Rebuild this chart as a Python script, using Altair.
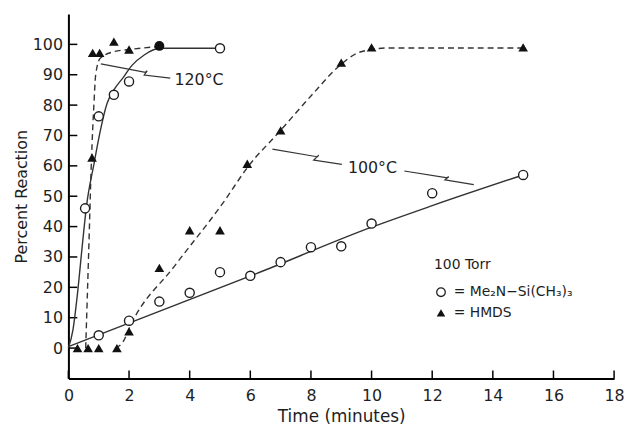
import altair as alt
import pandas as pd

# ---------------- data ----------------
# 120 C, Me2N-Si(CH3)3 (open circles)
c120_t = [0.55, 1.0, 1.5, 2.0, 5.0]
c120_v = [46.0, 76.3, 83.4, 87.8, 98.7]
# 120 C, HMDS (filled triangles)
h120_t = [0.78, 0.8, 1.03, 1.5, 2.0]
h120_v = [62.7, 97.2, 97.2, 100.9, 98.3]
# point at 3 min where both 120 C series coincide (filled circle)
both_t = [3.0]
both_v = [99.5]
# 100 C, Me2N-Si(CH3)3
c100_t = [1, 2, 3, 4, 5, 6, 7, 8, 9, 10, 12, 15]
c100_v = [4.2, 9.0, 15.3, 18.2, 25.0, 23.8, 28.3, 33.2, 33.5, 41.0, 51.0, 57.0]
# 100 C, HMDS
h100_t = [0.3, 0.65, 1.0, 1.6, 2.0, 3.0, 4.0, 5.0, 5.9, 7.0, 9.0, 10.0, 15.0]
h100_v = [0.0, 0.0, 0.0, 0.0, 5.5, 26.4, 38.8, 38.8, 60.7, 71.7, 94.0, 99.0, 99.0]

# hand-drawn fitted curves
fc120_t = [0, 0.15, 0.3, 0.45, 0.6, 0.85, 1.0, 1.28, 1.5, 1.83, 2.09, 2.5, 3.0, 5.0]
fc120_v = [0, 6, 18, 33, 47, 61, 69, 80.7, 85, 89.4, 93, 96.5, 98.7, 98.7]
fh120_t = [0.57, 0.67, 0.76, 0.84, 0.9, 1.05, 1.5, 2.0, 3.0]
fh120_v = [0, 32, 62, 80, 90, 95.4, 97.6, 98.3, 99.3]
fc100_t = [0, 6.2, 10, 12, 15]
fc100_v = [0.5, 24.5, 39.8, 46.9, 57.0]
fh100_t = [1.55, 1.8, 2.05, 3.5, 5.15, 5.9, 7.0, 8.0, 9.0, 9.5, 10.0, 10.5, 15.0]
fh100_v = [0, 2, 7.5, 27, 48.5, 59.4, 71.7, 83, 93.5, 97, 98.3, 98.8, 98.8]

# leader lines with a break symbol
lead120_t = [1.07, 2.54, 2.60, 2.50, 3.36]
lead120_v = [93.6, 90.8, 91.3, 89.9, 88.9]
lead100a_t = [6.73, 8.20, 8.26, 8.09, 9.02]
lead100a_v = [65.5, 63.0, 63.5, 61.9, 60.5]
lead100b_t = [11.08, 12.45, 12.55, 12.42, 13.37]
lead100b_v = [58.3, 56.1, 56.4, 55.4, 53.8]

# text
temp_labels = ["120°C", "100°C"]
temp_t = [4.31, 10.03]
temp_v = [88.1, 59.3]
legend_lines = ["100 Torr", "= Me₂N−Si(CH₃)₃", "= HMDS"]
legend_t = [12.06, 12.71, 12.71]
legend_v = [27.3, 18.4, 11.6]
legend_sym_t = [12.29, 12.29]
legend_sym_v = [18.4, 11.6]

x_ticks = list(range(0, 19, 2))
y_ticks = list(range(0, 101, 10))

FONT = "DejaVu Sans"
INK = "#1e1e1e"
W, H = 551, 368

xscale = alt.Scale(domain=[0, 18], nice=False, zero=False)
yscale = alt.Scale(domain=[-10, 110], nice=False, zero=False)
xaxis = alt.Axis(values=x_ticks, title="Time (minutes)", ticks=False, grid=False,
                 domainColor="black", domainWidth=2, labelFont=FONT, labelFontSize=16,
                 labelColor=INK, labelPadding=9, titleFont=FONT, titleFontSize=17,
                 titleFontWeight="normal", titleColor=INK, titlePadding=5, format="d",
                 labelFlush=False)
yaxis = alt.Axis(values=y_ticks, title="Percent Reaction", ticks=False, grid=False,
                 domainColor="black", domainWidth=2, labelFont=FONT, labelFontSize=16,
                 labelColor=INK, labelPadding=6, titleFont=FONT, titleFontSize=16,
                 titleFontWeight="normal", titleColor=INK, titlePadding=3, format="d",
                 labelFlush=False)


def X(f="t"):
    return alt.X(f, type="quantitative", scale=xscale, axis=xaxis)


def Y(f="v"):
    return alt.Y(f, type="quantitative", scale=yscale, axis=yaxis)


def df(t, v):
    return pd.DataFrame({"t": t, "v": v, "i": list(range(len(t)))})


layers = []

# inward tick marks
layers.append(alt.Chart(pd.DataFrame({"t": x_ticks})).mark_rule(color="black", strokeWidth=1.5)
              .encode(x=X(), y=alt.value(H), y2=alt.value(H - 8)))
layers.append(alt.Chart(pd.DataFrame({"v": y_ticks})).mark_rule(color="black", strokeWidth=1.5)
              .encode(y=Y(), x=alt.value(0), x2=alt.value(9)))

# fitted curves
for (t, v, dash) in [(fc120_t, fc120_v, None), (fh120_t, fh120_v, [6, 4]),
                     (fc100_t, fc100_v, None), (fh100_t, fh100_v, [6, 4])]:
    kw = dict(color="#333", strokeWidth=1.4, interpolate="monotone")
    if dash:
        kw["strokeDash"] = dash
    layers.append(alt.Chart(df(t, v)).mark_line(**kw).encode(x=X(), y=Y()))

# leader lines
for (t, v) in [(lead120_t, lead120_v), (lead100a_t, lead100a_v), (lead100b_t, lead100b_v)]:
    layers.append(alt.Chart(df(t, v)).mark_line(color="#333", strokeWidth=1.2)
                  .encode(x=X(), y=Y(), order=alt.Order("i:Q")))

# data points
for (t, v) in [(c120_t, c120_v), (c100_t, c100_v)]:
    layers.append(alt.Chart(df(t, v)).mark_point(shape="circle", size=85, filled=True, fill="white",
                                                 stroke=INK, strokeWidth=1.4, opacity=1)
                  .encode(x=X(), y=Y()))
for (t, v) in [(h120_t, h120_v), (h100_t, h100_v)]:
    layers.append(alt.Chart(df(t, v)).mark_point(shape="triangle-up", size=95, filled=True,
                                                 color="#111", opacity=1)
                  .encode(x=X(), y=Y()))
layers.append(alt.Chart(df(both_t, both_v)).mark_point(shape="circle", size=100, filled=True,
                                                        color="#111", opacity=1)
              .encode(x=X(), y=Y()))

# temperature labels
layers.append(alt.Chart(pd.DataFrame({"t": temp_t, "v": temp_v, "s": temp_labels}))
              .mark_text(font=FONT, fontSize=16, color=INK, align="center", baseline="middle")
              .encode(x=X(), y=Y(), text="s:N"))

# legend
layers.append(alt.Chart(pd.DataFrame({"t": legend_t, "v": legend_v, "s": legend_lines}))
              .mark_text(font=FONT, fontSize=14, color=INK, align="left", baseline="middle")
              .encode(x=X(), y=Y(), text="s:N"))
layers.append(alt.Chart(df(legend_sym_t[:1], legend_sym_v[:1]))
              .mark_point(shape="circle", size=75, filled=True, fill="white", stroke=INK,
                          strokeWidth=1.3, opacity=1)
              .encode(x=X(), y=Y()))
layers.append(alt.Chart(df(legend_sym_t[1:], legend_sym_v[1:]))
              .mark_point(shape="triangle-up", size=75, filled=True, color="#111", opacity=1)
              .encode(x=X(), y=Y()))

chart = alt.layer(*layers).properties(
    width=W, height=H,
    autosize=alt.AutoSizeParams(type="none"),
    padding={"left": 61, "top": 4, "right": 10, "bottom": 50},
    background="white",
).configure_view(stroke=None)

chart.save("out.html", embed_options={"renderer": "svg", "actions": False})
